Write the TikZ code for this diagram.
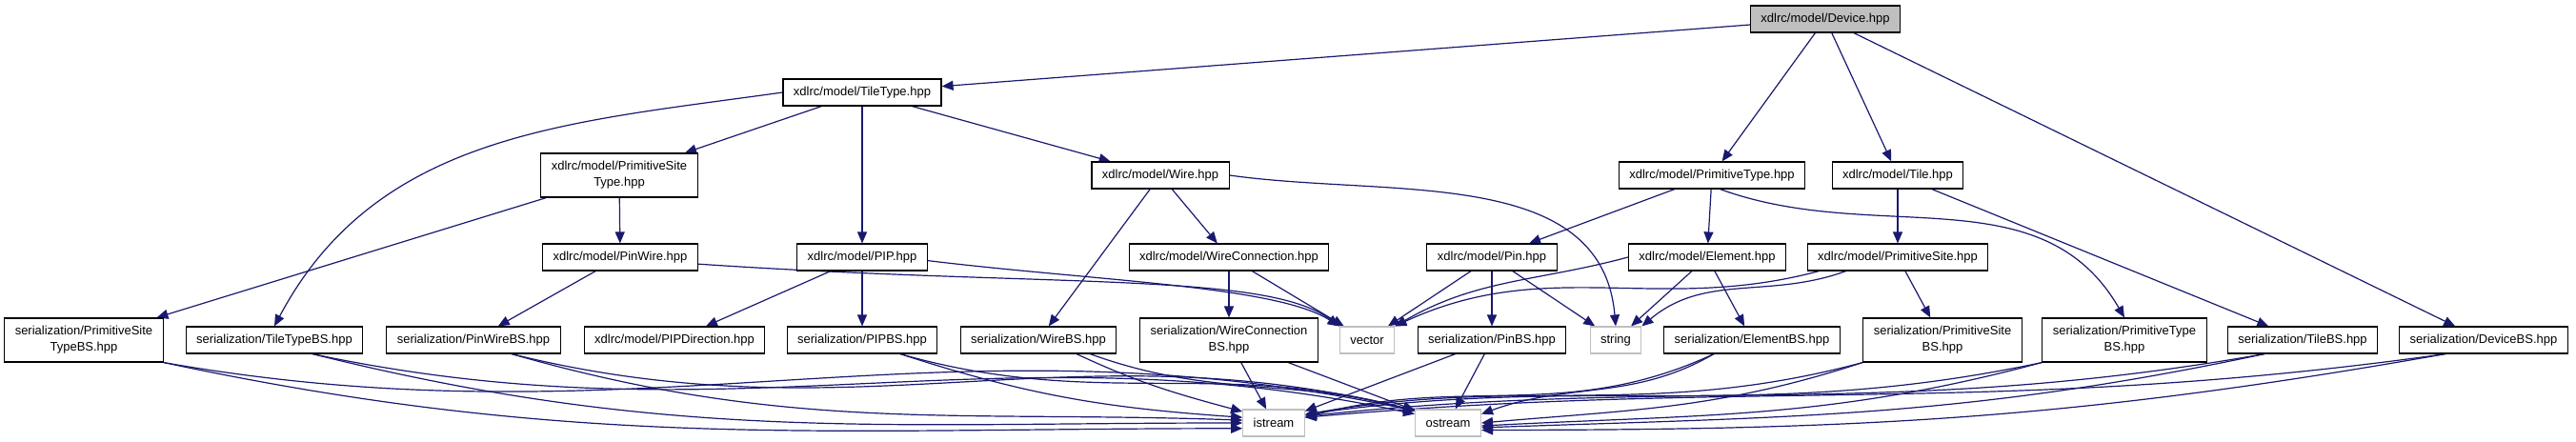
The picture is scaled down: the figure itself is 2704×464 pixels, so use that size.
\documentclass[tikz,border=0pt]{standalone}
\usepackage{fontspec}
\setmainfont{Liberation Sans}
\usetikzlibrary{calc,positioning,arrows.meta,shapes}

\definecolor{edgeblue}{RGB}{25,25,112}
\definecolor{sysgray}{RGB}{191,191,191}

\pgfdeclarelayer{edges}
\pgfsetlayers{edges,main}

\tikzset{
  hdr/.style={draw=black, line width=0.55pt, fill=white, inner xsep=5.5pt, inner ysep=0pt,
    minimum height=14pt, font=\fontsize{6.5}{8.5}\selectfont},
  hdrtwo/.style={hdr, align=center, minimum height=23pt},
  sys/.style={hdr, draw=sysgray},
  incl/.style={draw=edgeblue, line width=0.6pt, -{Triangle[length=6pt,width=5pt]}},
}

\begin{document}
\begin{tikzpicture}[x=0.5pt, y=-0.5pt]

  \useasboundingbox (0,0) rectangle (2704,464);

  \node[hdr, fill=sysgray] (device) at (1916,20) {xdlrc/model/Device.hpp};
  \node[hdr] (tiletype) at (905,97) {xdlrc/model/TileType.hpp};

  \node[hdrtwo] (pstype) at (650,184) {xdlrc/model/PrimitiveSite\\Type.hpp};
  \node[hdr] (wire) at (1218,184) {xdlrc/model/Wire.hpp};
  \node[hdr] (primtype) at (1797,184) {xdlrc/model/PrimitiveType.hpp};
  \node[hdr] (tile) at (1992,184) {xdlrc/model/Tile.hpp};

  \node[hdr] (pinwire) at (651,270) {xdlrc/model/PinWire.hpp};
  \node[hdr] (pip) at (905,270) {xdlrc/model/PIP.hpp};
  \node[hdr] (wireconn) at (1290,270) {xdlrc/model/WireConnection.hpp};
  \node[hdr] (pin) at (1566,270) {xdlrc/model/Pin.hpp};
  \node[hdr] (element) at (1792,270) {xdlrc/model/Element.hpp};
  \node[hdr] (primsite) at (1992,270) {xdlrc/model/PrimitiveSite.hpp};

  \node[hdrtwo] (pstypebs) at (88,357) {serialization/PrimitiveSite\\TypeBS.hpp};
  \node[hdr] (tiletypebs) at (288,357) {serialization/TileTypeBS.hpp};
  \node[hdr] (pinwirebs) at (497,357) {serialization/PinWireBS.hpp};
  \node[hdr] (pipdir) at (708,357) {xdlrc/model/PIPDirection.hpp};
  \node[hdr] (pipbs) at (905,357) {serialization/PIPBS.hpp};
  \node[hdr] (wirebs) at (1090,357) {serialization/WireBS.hpp};
  \node[hdrtwo] (wireconnbs) at (1290,357) {serialization/WireConnection\\BS.hpp};
  \node[sys] (vector) at (1435,357) {vector};
  \node[hdr] (pinbs) at (1566,357) {serialization/PinBS.hpp};
  \node[sys] (string) at (1696,357) {string};
  \node[hdr] (elementbs) at (1839,357) {serialization/ElementBS.hpp};
  \node[hdrtwo] (primsitebs) at (2039,357) {serialization/PrimitiveSite\\BS.hpp};
  \node[hdrtwo] (primtypebs) at (2230,357) {serialization/PrimitiveType\\BS.hpp};
  \node[hdr] (tilebs) at (2417,357) {serialization/TileBS.hpp};
  \node[hdr] (devicebs) at (2607,357) {serialization/DeviceBS.hpp};

  \node[sys] (istream) at (1337,444) {istream};
  \node[sys] (ostream) at (1520,444) {ostream};

  \begin{pgfonlayer}{edges}
  % top levels
  \draw[incl] (device) -- (tiletype);
  \draw[incl] (device) -- (primtype);
  \draw[incl] (device) -- (tile);
  \draw[incl] (device) -- (devicebs);

  \draw[incl] (tiletype) -- (pstype);
  \draw[incl] (tiletype.west) to[out=188,in=62] (tiletypebs.north);
  \draw[incl] (tiletype) -- (pip);
  \draw[incl] (tiletype) -- (wire);

  \draw[incl] (pstype) -- (pinwire);
  \draw[incl] (pstype) -- (pstypebs);

  \draw[incl] (wire.east) to[out=-8,in=95] (string.north);
  \draw[incl] (wire) -- (wirebs);
  \draw[incl] (wire) -- (wireconn);

  \draw[incl] (primtype) -- (pin);
  \draw[incl] (primtype) -- (element);
  \draw[incl] (primtype.-60) to[out=-20,in=120] (primtypebs.north);

  \draw[incl] (tile) -- (primsite);
  \draw[incl] (tile) -- (tilebs);

  % middle row
  \draw[incl] (pinwire) -- (pinwirebs);
  \draw[incl] (pinwire.-5) .. controls (1100,302) and (1330,285) .. (vector.north west);
  \draw[incl] (pip) -- (pipdir);
  \draw[incl] (pip) -- (pipbs);
  \draw[incl] (pip.-3) .. controls (1150,295) and (1340,300) .. (vector.north west);
  \draw[incl] (wireconn) -- (wireconnbs);
  \draw[incl] (wireconn) -- (vector);
  \draw[incl] (pin) -- (vector);
  \draw[incl] (pin) -- (pinbs);
  \draw[incl] (pin) -- (string);
  \draw[incl] (element.west) to[out=195,in=30] (vector.north east);
  \draw[incl] (element) -- (string);
  \draw[incl] (element) -- (elementbs);
  \draw[incl] (primsite.-170) to[out=195,in=25] (vector.north east);
  \draw[incl] (primsite.-165) to[out=200,in=40] (string.north east);
  \draw[incl] (primsite) -- (primsitebs);

  % streams
  \draw[incl] (pstypebs.south east) to[out=-12,in=180] (istream.190);
  \draw[incl] (pstypebs.south east) to[out=-10,in=168] (ostream.160);
  \draw[incl] (tiletypebs.-20) to[out=-14,in=180] (istream.west);
  \draw[incl] (tiletypebs.-20) to[out=-12,in=168] (ostream.165);
  \draw[incl] (pinwirebs.-20) to[out=-16,in=178] (istream.175);
  \draw[incl] (pinwirebs.-20) to[out=-14,in=166] (ostream.160);
  \draw[incl] (pipbs.-20) to[out=-18,in=176] (istream.170);
  \draw[incl] (pipbs.-20) to[out=-16,in=165] (ostream.160);
  \draw[incl] (wirebs.-20) to[out=-25,in=165] (istream.160);
  \draw[incl] (wirebs.-15) to[out=-20,in=165] (ostream.160);
  \draw[incl] (wireconnbs) -- (istream);
  \draw[incl] (wireconnbs) -- (ostream);
  \draw[incl] (pinbs) -- (istream);
  \draw[incl] (pinbs) -- (ostream);
  \draw[incl] (elementbs.-160) to[out=205,in=15] (istream.10);
  \draw[incl] (elementbs.-160) to[out=210,in=20] (ostream.15);
  \draw[incl] (primsitebs.south west) to[out=195,in=10] (istream.15);
  \draw[incl] (primsitebs.south west) to[out=198,in=5] (ostream.east);
  \draw[incl] (primtypebs.south west) to[out=192,in=8] (istream.15);
  \draw[incl] (primtypebs.south west) to[out=195,in=3] (ostream.-5);
  \draw[incl] (tilebs.-160) to[out=190,in=6] (istream.12);
  \draw[incl] (tilebs.-160) to[out=192,in=2] (ostream.-8);
  \draw[incl] (devicebs.-160) to[out=188,in=5] (istream.10);
  \draw[incl] (devicebs.-160) to[out=190,in=0] (ostream.-12);
  \end{pgfonlayer}

\end{tikzpicture}
\end{document}
